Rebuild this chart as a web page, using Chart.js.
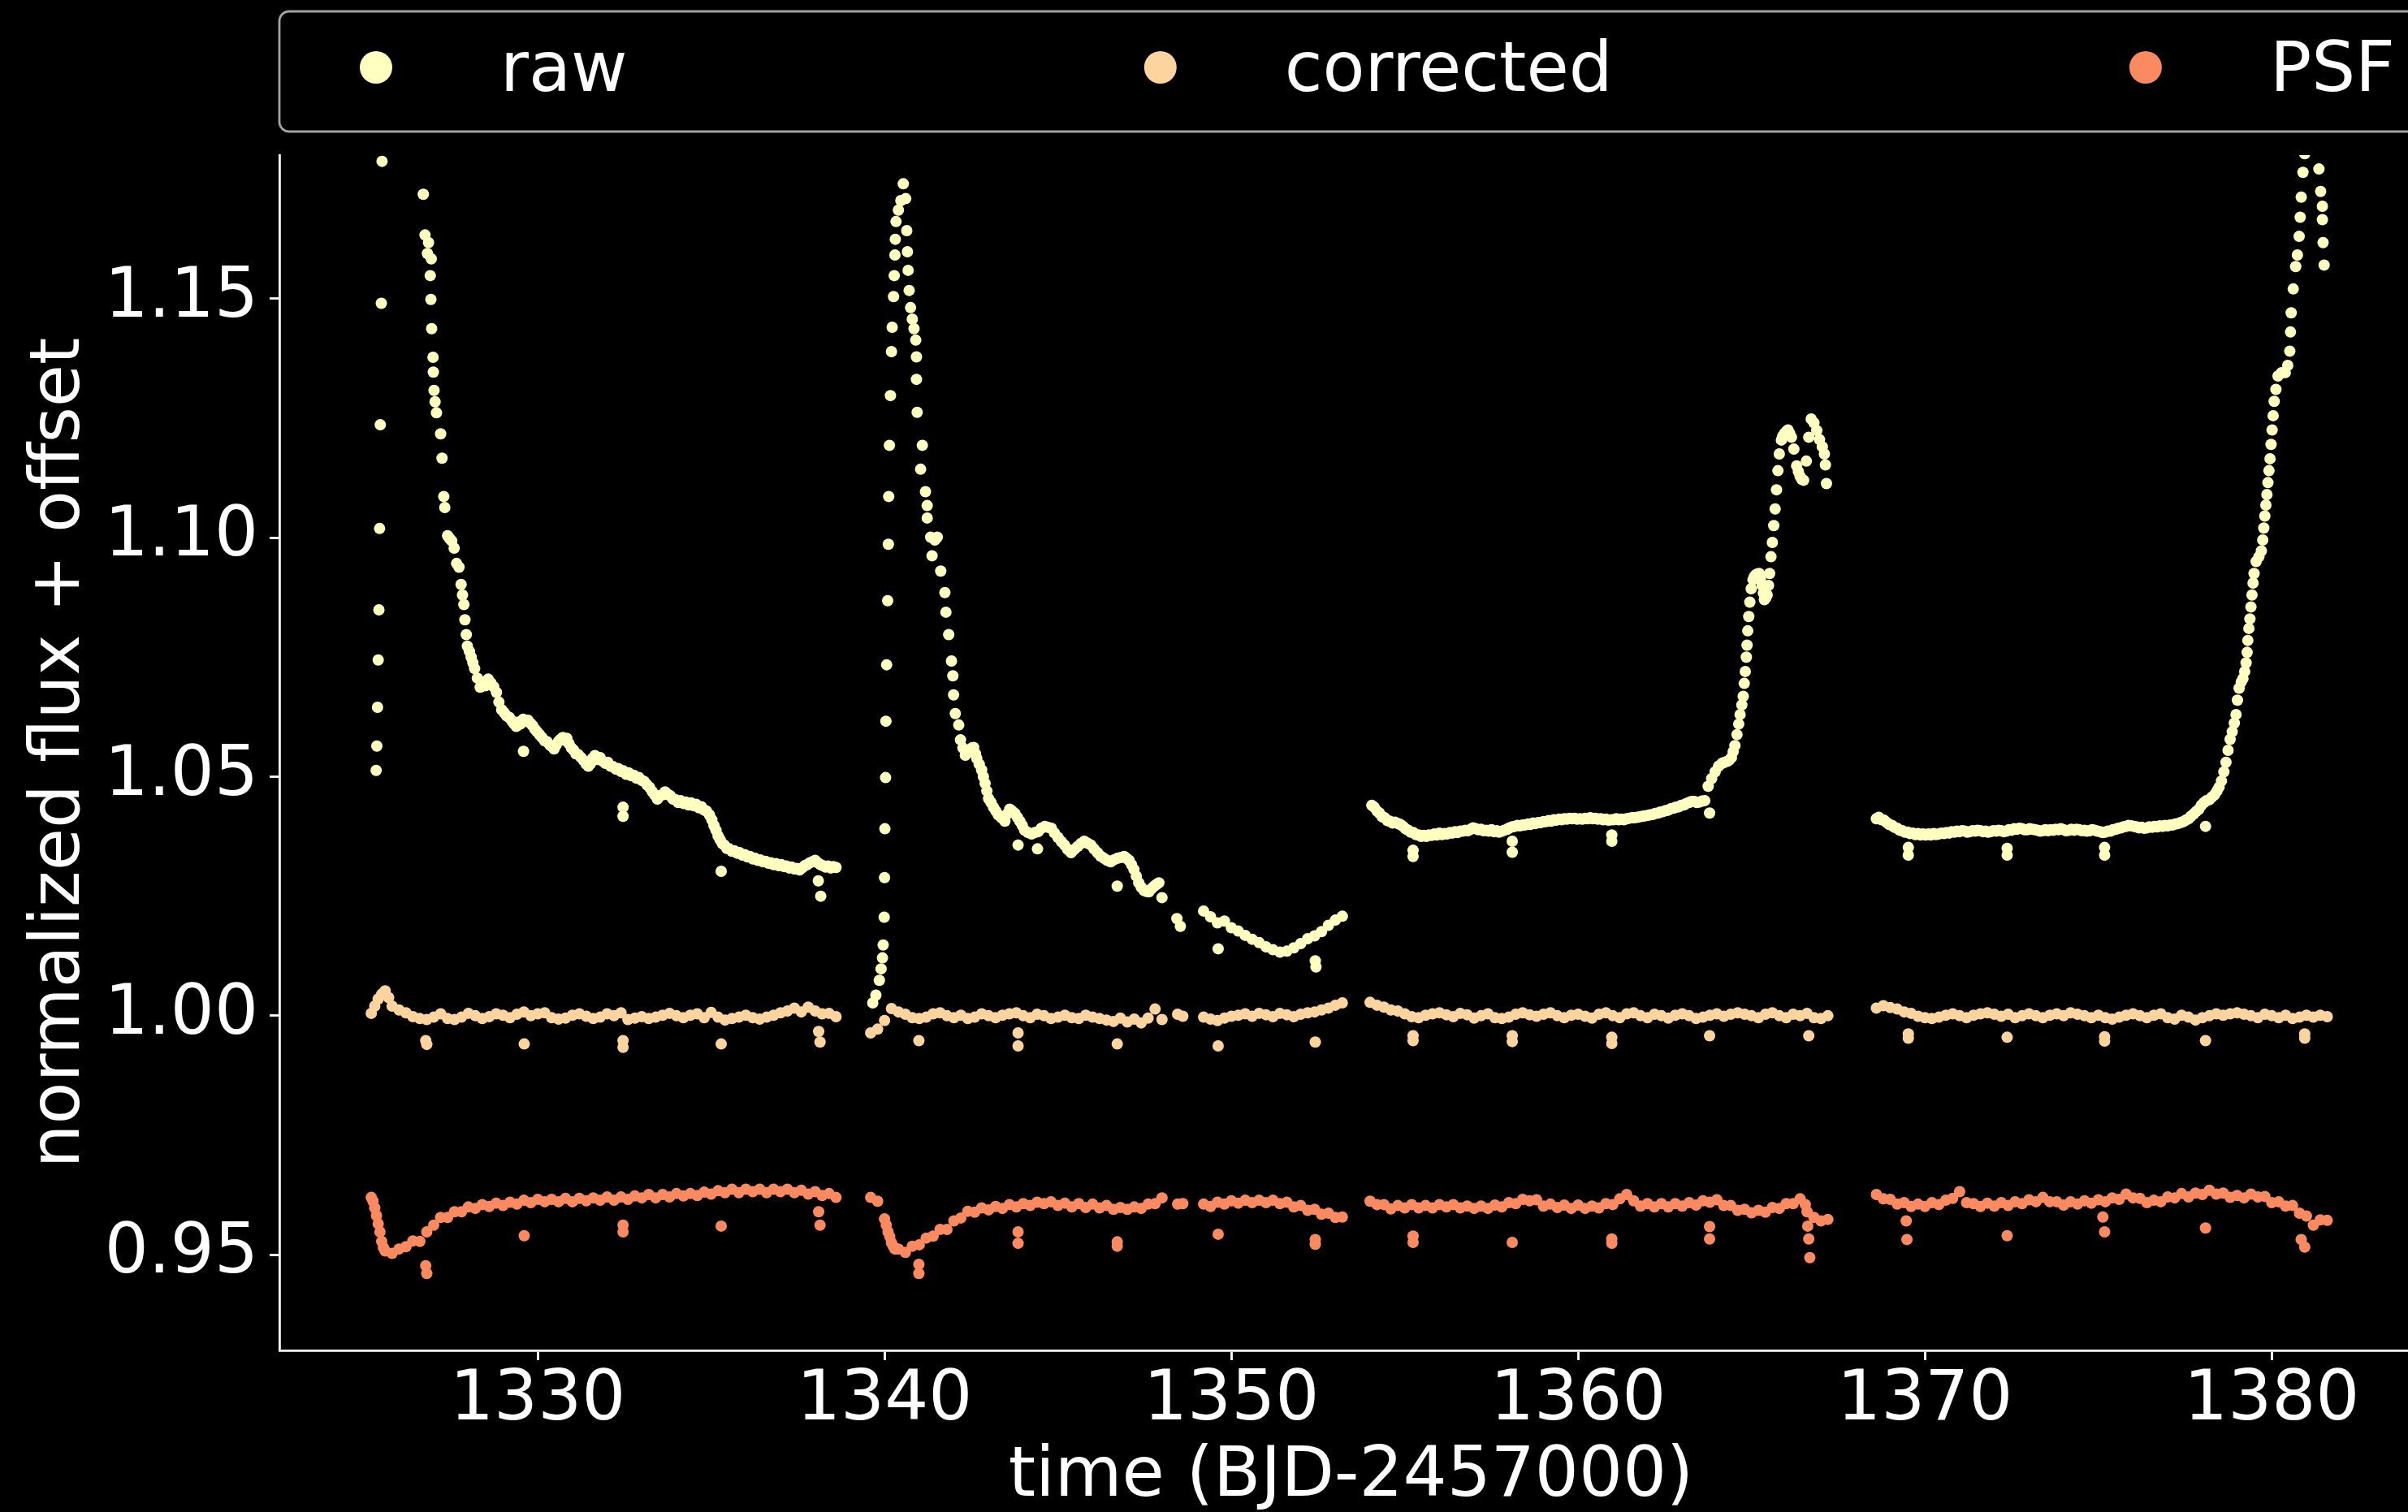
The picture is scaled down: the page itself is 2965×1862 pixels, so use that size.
<!DOCTYPE html>
<html>
<head>
<meta charset="utf-8">
<title>light curve</title>
<script src="https://cdn.jsdelivr.net/npm/chart.js@4.4.0/dist/chart.umd.min.js"></script>
<style>
    html, body { margin: 0; padding: 0; background: #000; overflow: hidden; }
    #wrap { position: absolute; left: 0; top: 0; width: 2990px; height: 1862px; }
</style>
</head>
<body>
<div id="wrap"><canvas id="lcChart" width="2990" height="1862"></canvas></div>
<script>
const seriesLabels = ['raw', 'corrected', 'PSF'];
const timeTicks = [1330, 1340, 1350, 1360, 1370, 1380];
const fluxTicks = [0.95, 1.00, 1.05, 1.10, 1.15];

// shared sample times (corrected + PSF), one array per orbit segment
const t1 = [1325.2, 1325.4, 1325.6, 1325.8, 1326.0, 1326.2, 1326.4, 1326.6, 1326.8, 1327.0,
    1327.2, 1327.4, 1327.6, 1327.8, 1328.0, 1328.2, 1328.4, 1328.6, 1328.8, 1329.0,
    1329.2, 1329.4, 1329.6, 1329.8, 1330.0, 1330.2, 1330.4, 1330.6, 1330.8, 1331.0,
    1331.2, 1331.4, 1331.6, 1331.8, 1332.0, 1332.2, 1332.4, 1332.6, 1332.8, 1333.0,
    1333.2, 1333.4, 1333.6, 1333.8, 1334.0, 1334.2, 1334.4, 1334.6, 1334.8, 1335.0,
    1335.2, 1335.4, 1335.6, 1335.8, 1336.0, 1336.2, 1336.4, 1336.6, 1336.8, 1337.0,
    1337.2, 1337.4, 1337.6, 1337.8, 1338.0, 1338.2, 1338.4, 1338.6];
const t2 = [1339.6, 1339.8, 1340.0, 1340.2, 1340.4, 1340.6, 1340.8, 1341.0, 1341.2, 1341.4,
    1341.6, 1341.8, 1342.0, 1342.2, 1342.4, 1342.6, 1342.8, 1343.0, 1343.2, 1343.4,
    1343.6, 1343.8, 1344.0, 1344.2, 1344.4, 1344.6, 1344.8, 1345.0, 1345.2, 1345.4,
    1345.6, 1345.8, 1346.0, 1346.2, 1346.4, 1346.6, 1346.8, 1347.0, 1347.2, 1347.4,
    1347.6, 1347.8, 1348.0, 1348.45, 1348.6];
const t3 = [1349.2, 1349.4, 1349.6, 1349.8, 1350.0, 1350.2, 1350.4, 1350.6, 1350.8, 1351.0,
    1351.2, 1351.4, 1351.6, 1351.8, 1352.0, 1352.2, 1352.4, 1352.6, 1352.8, 1353.0, 1353.2];
const t4 = [1354.0, 1354.2, 1354.4, 1354.6, 1354.8, 1355.0, 1355.2, 1355.4, 1355.6, 1355.8,
    1356.0, 1356.2, 1356.4, 1356.6, 1356.8, 1357.0, 1357.2, 1357.4, 1357.6, 1357.8,
    1358.0, 1358.2, 1358.4, 1358.6, 1358.8, 1359.0, 1359.2, 1359.4, 1359.6, 1359.8,
    1360.0, 1360.2, 1360.4, 1360.6, 1360.8, 1361.0, 1361.2, 1361.4, 1361.6, 1361.8,
    1362.0, 1362.2, 1362.4, 1362.6, 1362.8, 1363.0, 1363.2, 1363.4, 1363.6, 1363.8,
    1364.0, 1364.2, 1364.4, 1364.6, 1364.8, 1365.0, 1365.2, 1365.4, 1365.6, 1365.8,
    1366.0, 1366.2, 1366.4, 1366.6, 1366.8, 1367.0, 1367.2];
const t5 = [1368.6, 1368.8, 1369.0, 1369.2, 1369.4, 1369.6, 1369.8, 1370.0, 1370.2, 1370.4,
    1370.6, 1370.8, 1371.0, 1371.2, 1371.4, 1371.6, 1371.8, 1372.0, 1372.2, 1372.4,
    1372.6, 1372.8, 1373.0, 1373.2, 1373.4, 1373.6, 1373.8, 1374.0, 1374.2, 1374.4,
    1374.6, 1374.8, 1375.0, 1375.2, 1375.4, 1375.6, 1375.8, 1376.0, 1376.2, 1376.4,
    1376.6, 1376.8, 1377.0, 1377.2, 1377.4, 1377.6, 1377.8, 1378.0, 1378.2, 1378.4,
    1378.6, 1378.8, 1379.0, 1379.2, 1379.4, 1379.6, 1379.8, 1380.0, 1380.2, 1380.4,
    1380.6, 1380.8, 1381.0, 1381.2, 1381.4, 1381.6];

// corrected flux
const corr1 = [1.0005, 1.0035, 1.0052, 1.0020, 1.0012, 1.0006, 0.9998, 0.9994, 0.9992, 0.9997,
    1.0004, 0.9994, 0.9992, 0.9997, 1.0005, 1.0000, 0.9994, 0.9998, 1.0004, 1.0001,
    0.9996, 1.0003, 1.0008, 1.0000, 1.0004, 1.0006, 0.9996, 0.9993, 0.9995, 1.0001,
    1.0004, 0.9999, 0.9994, 0.9997, 1.0004, 1.0000, 1.0006, 0.9992, 0.9995, 0.9998,
    0.9994, 0.9997, 1.0001, 1.0005, 1.0000, 0.9996, 1.0001, 1.0004, 0.9996, 1.0007,
    0.9997, 0.9991, 0.9994, 0.9997, 1.0001, 0.9996, 0.9993, 0.9997, 1.0001, 1.0006,
    1.0010, 1.0016, 1.0008, 1.0018, 1.0010, 1.0004, 1.0005, 0.9998];
const corr2 = [0.9964, 0.9972, 0.9990, 1.0015, 1.0008, 1.0003, 0.9996, 0.9994, 0.9997, 1.0004,
    1.0006, 1.0000, 0.9996, 1.0001, 0.9994, 0.9997, 1.0004, 1.0000, 0.9996, 1.0001,
    1.0004, 1.0006, 1.0000, 0.9996, 1.0003, 1.0000, 0.9994, 0.9997, 1.0001, 0.9996,
    0.9994, 1.0001, 0.9997, 0.9994, 0.9991, 0.9988, 0.9995, 0.9987, 0.9993, 0.9985,
    0.9995, 1.0014, 0.9992, 1.0003, 0.9999];
const corr3 = [0.9997, 0.9993, 0.9990, 0.9995, 0.9999, 1.0001, 1.0004, 0.9999, 1.0005, 1.0002,
    0.9998, 1.0005, 1.0002, 0.9998, 1.0003, 1.0006, 1.0008, 1.0012, 1.0016, 1.0022, 1.0027];
const corr4 = [1.0028, 1.0022, 1.0018, 1.0012, 1.0010, 1.0004, 0.9998, 0.9996, 1.0001, 1.0004,
    1.0006, 1.0002, 0.9998, 1.0005, 1.0002, 0.9995, 1.0000, 1.0004, 0.9996, 0.9994,
    0.9997, 1.0003, 1.0006, 1.0002, 0.9999, 1.0003, 1.0006, 1.0000, 0.9996, 1.0001,
    1.0003, 0.9999, 0.9995, 1.0003, 1.0006, 1.0000, 0.9996, 1.0004, 1.0006, 1.0000,
    0.9996, 1.0003, 1.0000, 0.9995, 1.0001, 1.0004, 1.0000, 0.9994, 0.9997, 1.0001,
    1.0004, 0.9999, 1.0003, 1.0006, 1.0003, 1.0000, 0.9996, 1.0003, 1.0006, 1.0000,
    0.9996, 1.0003, 1.0000, 1.0005, 0.9996, 0.9994, 1.0000];
const corr5 = [1.0016, 1.0021, 1.0017, 1.0014, 1.0008, 1.0005, 0.9999, 0.9996, 0.9994, 0.9997,
    1.0001, 1.0004, 1.0000, 0.9996, 1.0001, 1.0004, 1.0006, 1.0003, 0.9999, 1.0003,
    0.9996, 1.0000, 1.0004, 1.0000, 0.9996, 1.0001, 1.0004, 1.0000, 1.0006, 1.0003,
    1.0000, 0.9996, 1.0001, 0.9996, 0.9993, 0.9997, 1.0001, 1.0004, 1.0000, 0.9996,
    1.0001, 1.0004, 0.9996, 0.9993, 1.0001, 0.9997, 0.9991, 0.9996, 1.0000, 1.0004,
    1.0001, 1.0004, 1.0006, 1.0003, 1.0000, 0.9996, 1.0003, 1.0000, 0.9996, 1.0001,
    0.9994, 0.9997, 1.0001, 0.9997, 1.0001, 0.9998];

// PSF flux
const psf1 = [0.9620, 0.9565, 0.9508, 0.9503, 0.9512, 0.9517, 0.9529, 0.9528, 0.9548, 0.9562,
    0.9578, 0.9578, 0.9590, 0.9590, 0.9600, 0.9597, 0.9605, 0.9601, 0.9608, 0.9603,
    0.9610, 0.9606, 0.9614, 0.9609, 0.9616, 0.9611, 0.9616, 0.9611, 0.9618, 0.9611,
    0.9618, 0.9613, 0.9619, 0.9614, 0.9621, 0.9614, 0.9621, 0.9616, 0.9623, 0.9619,
    0.9626, 0.9619, 0.9626, 0.9621, 0.9628, 0.9623, 0.9628, 0.9624, 0.9631, 0.9627,
    0.9634, 0.9630, 0.9637, 0.9630, 0.9637, 0.9632, 0.9637, 0.9630, 0.9637, 0.9632,
    0.9637, 0.9630, 0.9635, 0.9627, 0.9632, 0.9624, 0.9628, 0.9620];
const psf2 = [0.9620, 0.9612, 0.9575, 0.9525, 0.9512, 0.9505, 0.9518, 0.9521, 0.9535, 0.9539,
    0.9553, 0.9553, 0.9571, 0.9577, 0.9591, 0.9589, 0.9598, 0.9594, 0.9601, 0.9597,
    0.9605, 0.9600, 0.9607, 0.9603, 0.9610, 0.9607, 0.9611, 0.9603, 0.9608, 0.9600,
    0.9607, 0.9599, 0.9606, 0.9598, 0.9603, 0.9595, 0.9599, 0.9595, 0.9600, 0.9597,
    0.9606, 0.9607, 0.9619, 0.9606, 0.9607];
const psf3 = [0.9606, 0.9601, 0.9610, 0.9606, 0.9613, 0.9608, 0.9614, 0.9609, 0.9614, 0.9609,
    0.9614, 0.9607, 0.9610, 0.9600, 0.9603, 0.9593, 0.9595, 0.9585, 0.9587, 0.9578, 0.9579];
const psf4 = [0.9612, 0.9605, 0.9605, 0.9596, 0.9603, 0.9598, 0.9605, 0.9598, 0.9603, 0.9598,
    0.9605, 0.9600, 0.9605, 0.9598, 0.9602, 0.9597, 0.9602, 0.9597, 0.9604, 0.9600,
    0.9609, 0.9607, 0.9616, 0.9613, 0.9615, 0.9602, 0.9606, 0.9599, 0.9604, 0.9597,
    0.9604, 0.9597, 0.9602, 0.9598, 0.9607, 0.9605, 0.9617, 0.9626, 0.9613, 0.9602,
    0.9607, 0.9600, 0.9607, 0.9600, 0.9607, 0.9602, 0.9609, 0.9604, 0.9613, 0.9610,
    0.9615, 0.9603, 0.9603, 0.9593, 0.9595, 0.9588, 0.9593, 0.9589, 0.9599, 0.9597,
    0.9607, 0.9607, 0.9617, 0.9590, 0.9578, 0.9571, 0.9574];
const psf5 = [0.9626, 0.9617, 0.9616, 0.9606, 0.9609, 0.9601, 0.9606, 0.9601, 0.9609, 0.9605,
    0.9614, 0.9618, 0.9632, 0.9609, 0.9607, 0.9601, 0.9608, 0.9602, 0.9609, 0.9603,
    0.9611, 0.9607, 0.9615, 0.9611, 0.9620, 0.9611, 0.9611, 0.9604, 0.9611, 0.9606,
    0.9613, 0.9608, 0.9615, 0.9611, 0.9619, 0.9616, 0.9627, 0.9619, 0.9618, 0.9609,
    0.9614, 0.9611, 0.9621, 0.9619, 0.9628, 0.9621, 0.9629, 0.9626, 0.9635, 0.9627,
    0.9629, 0.9620, 0.9624, 0.9619, 0.9627, 0.9621, 0.9622, 0.9609, 0.9611, 0.9602,
    0.9603, 0.9587, 0.9581, 0.9562, 0.9573, 0.9572];

// raw flux: [time, flux], denser where the curve is steep
const raw1 = [[1325.34, 1.0513], [1325.36, 1.0564], [1325.38, 1.0645], [1325.40, 1.0744], [1325.42, 1.0849],
    [1325.44, 1.1019], [1325.46, 1.1236], [1325.49, 1.1490], [1325.51, 1.1787],
    [1326.70, 1.1718], [1326.75, 1.1633], [1326.82, 1.1594], [1326.85, 1.1617], [1326.90, 1.1548],
    [1326.93, 1.1583], [1326.92, 1.1498], [1326.94, 1.1437], [1326.98, 1.1377], [1326.99, 1.1346],
    [1327.01, 1.1308], [1327.04, 1.1284], [1327.08, 1.1261], [1327.20, 1.1217], [1327.24, 1.1166],
    [1327.29, 1.1086], [1327.32, 1.1063], [1327.40, 1.1004], [1327.46, 1.0998], [1327.52, 1.0993],
    [1327.59, 1.0978], [1327.66, 1.0946], [1327.73, 1.0938], [1327.79, 1.0902], [1327.83, 1.0880],
    [1327.87, 1.0860], [1327.90, 1.0828], [1327.94, 1.0797], [1327.97, 1.0773], [1328.03, 1.0762],
    [1328.08, 1.0750], [1328.13, 1.0738], [1328.18, 1.0726], [1328.26, 1.0706], [1328.34, 1.0687],
    [1328.42, 1.0698], [1328.49, 1.0690], [1328.57, 1.0704], [1328.65, 1.0696], [1328.73, 1.0688],
    [1328.81, 1.0676], [1328.88, 1.0656], [1328.96, 1.0640], [1329.03, 1.0634], [1329.10, 1.0627],
    [1329.18, 1.0624], [1329.25, 1.0617], [1329.31, 1.0611], [1329.38, 1.0605], [1329.44, 1.0614],
    [1329.50, 1.0610], [1329.58, 1.0620], [1329.65, 1.0616], [1329.72, 1.0618], [1329.80, 1.0611],
    [1329.86, 1.0606], [1329.92, 1.0599], [1329.98, 1.0594], [1330.05, 1.0588], [1330.12, 1.0582],
    [1330.20, 1.0575], [1330.27, 1.0573], [1330.35, 1.0566], [1330.41, 1.0563], [1330.47, 1.0558],
    [1330.53, 1.0566], [1330.60, 1.0574], [1330.66, 1.0578], [1330.72, 1.0582], [1330.78, 1.0576],
    [1330.84, 1.0580], [1330.90, 1.0569], [1330.97, 1.0560], [1331.03, 1.0556], [1331.10, 1.0548],
    [1331.17, 1.0546], [1331.25, 1.0540], [1331.32, 1.0534], [1331.40, 1.0526], [1331.46, 1.0522],
    [1331.52, 1.0527], [1331.58, 1.0538], [1331.65, 1.0544], [1331.72, 1.0536], [1331.80, 1.0540],
    [1331.88, 1.0532], [1331.95, 1.0528], [1332.02, 1.0530], [1332.10, 1.0522], [1332.17, 1.0521],
    [1332.25, 1.0516], [1332.32, 1.0517], [1332.40, 1.0511], [1332.47, 1.0512], [1332.55, 1.0505],
    [1332.62, 1.0508], [1332.70, 1.0502], [1332.77, 1.0503], [1332.85, 1.0497], [1332.92, 1.0498],
    [1333.00, 1.0492], [1333.07, 1.0490], [1333.15, 1.0483], [1333.22, 1.0478], [1333.30, 1.0469],
    [1333.37, 1.0462], [1333.45, 1.0453], [1333.52, 1.0460], [1333.60, 1.0462], [1333.67, 1.0468],
    [1333.75, 1.0463], [1333.82, 1.0460], [1333.90, 1.0453], [1333.97, 1.0452], [1334.05, 1.0446],
    [1334.12, 1.0450], [1334.20, 1.0444], [1334.27, 1.0447], [1334.35, 1.0441], [1334.42, 1.0445],
    [1334.50, 1.0439], [1334.57, 1.0442], [1334.65, 1.0435], [1334.72, 1.0437], [1334.80, 1.0430],
    [1334.87, 1.0428], [1334.95, 1.0420], [1335.02, 1.0410], [1335.08, 1.0398], [1335.14, 1.0388],
    [1335.20, 1.0376], [1335.26, 1.0368], [1335.32, 1.0360], [1335.38, 1.0357], [1335.45, 1.0350],
    [1335.52, 1.0349], [1335.60, 1.0344], [1335.67, 1.0345], [1335.75, 1.0340], [1335.82, 1.0341],
    [1335.90, 1.0336], [1335.97, 1.0337], [1336.05, 1.0332], [1336.12, 1.0333], [1336.20, 1.0328],
    [1336.27, 1.0329], [1336.35, 1.0325], [1336.42, 1.0326], [1336.50, 1.0322], [1336.57, 1.0323],
    [1336.65, 1.0319], [1336.72, 1.0320], [1336.80, 1.0316], [1336.87, 1.0318], [1336.95, 1.0314],
    [1337.02, 1.0316], [1337.10, 1.0312], [1337.17, 1.0313], [1337.25, 1.0309], [1337.32, 1.0311],
    [1337.40, 1.0307], [1337.47, 1.0308], [1337.55, 1.0305], [1337.62, 1.0309], [1337.70, 1.0314],
    [1337.77, 1.0316], [1337.85, 1.0320], [1337.92, 1.0322], [1338.00, 1.0325], [1338.07, 1.0320],
    [1338.15, 1.0316], [1338.22, 1.0314], [1338.30, 1.0311], [1338.37, 1.0313], [1338.45, 1.0309],
    [1338.52, 1.0312], [1338.60, 1.0310]];
const raw2 = [[1339.66, 1.0027], [1339.75, 1.0043], [1339.85, 1.0074], [1339.90, 1.0098], [1339.94, 1.0121],
    [1339.96, 1.0148], [1339.99, 1.0206], [1340.00, 1.0289], [1340.01, 1.0391], [1340.03, 1.0498],
    [1340.04, 1.0616], [1340.06, 1.0734], [1340.09, 1.0868], [1340.11, 1.0986], [1340.12, 1.1086],
    [1340.14, 1.1193], [1340.17, 1.1297], [1340.20, 1.1389], [1340.22, 1.1440], [1340.26, 1.1504],
    [1340.28, 1.1548], [1340.30, 1.1591], [1340.31, 1.1624], [1340.33, 1.1661], [1340.40, 1.1685],
    [1340.47, 1.1705], [1340.54, 1.1740], [1340.61, 1.1709], [1340.64, 1.1642], [1340.66, 1.1598],
    [1340.68, 1.1559], [1340.71, 1.1517], [1340.75, 1.1481], [1340.80, 1.1457], [1340.85, 1.1437],
    [1340.90, 1.1413], [1340.92, 1.1378], [1340.92, 1.1331], [1340.94, 1.1262], [1341.04, 1.1143],
    [1341.09, 1.1193], [1341.18, 1.1096], [1341.23, 1.1067], [1341.23, 1.1041], [1341.33, 1.1001],
    [1341.37, 1.0962], [1341.45, 1.0995], [1341.52, 1.1001], [1341.62, 1.0930], [1341.74, 1.0885],
    [1341.77, 1.0844], [1341.85, 1.0797], [1341.93, 1.0742], [1341.97, 1.0711], [1341.99, 1.0671],
    [1342.04, 1.0632], [1342.14, 1.0608], [1342.19, 1.0577], [1342.26, 1.0560], [1342.33, 1.0545],
    [1342.40, 1.0550], [1342.47, 1.0553], [1342.52, 1.0560], [1342.57, 1.0561], [1342.62, 1.0548],
    [1342.66, 1.0538], [1342.73, 1.0526], [1342.80, 1.0514], [1342.85, 1.0500], [1342.90, 1.0486],
    [1342.95, 1.0470], [1343.00, 1.0454], [1343.07, 1.0446], [1343.14, 1.0436], [1343.21, 1.0428],
    [1343.28, 1.0420], [1343.37, 1.0414], [1343.47, 1.0407], [1343.54, 1.0422], [1343.61, 1.0432],
    [1343.68, 1.0428], [1343.76, 1.0423], [1343.83, 1.0415], [1343.90, 1.0407], [1343.97, 1.0398],
    [1344.04, 1.0388], [1344.14, 1.0383], [1344.24, 1.0380], [1344.33, 1.0383], [1344.43, 1.0385],
    [1344.52, 1.0392], [1344.62, 1.0396], [1344.71, 1.0394], [1344.81, 1.0392], [1344.90, 1.0382],
    [1345.00, 1.0373], [1345.10, 1.0364], [1345.19, 1.0357], [1345.28, 1.0348], [1345.38, 1.0341],
    [1345.47, 1.0348], [1345.57, 1.0354], [1345.66, 1.0360], [1345.76, 1.0365], [1345.85, 1.0361],
    [1345.95, 1.0357], [1346.04, 1.0349], [1346.14, 1.0341], [1346.23, 1.0334], [1346.33, 1.0329],
    [1346.42, 1.0325], [1346.52, 1.0322], [1346.61, 1.0326], [1346.71, 1.0329], [1346.81, 1.0331],
    [1346.91, 1.0333], [1346.98, 1.0329], [1347.05, 1.0325], [1347.12, 1.0316], [1347.19, 1.0306],
    [1347.26, 1.0292], [1347.33, 1.0278], [1347.40, 1.0269], [1347.48, 1.0262], [1347.55, 1.0260],
    [1347.62, 1.0259], [1347.69, 1.0265], [1347.76, 1.0270], [1347.83, 1.0274], [1347.91, 1.0278],
    [1348.00, 1.0247], [1348.43, 1.0203], [1348.53, 1.0187]];
const raw3 = [1.0219, 1.0207, 1.0194, 1.0198, 1.0184, 1.0177, 1.0168, 1.0160, 1.0153, 1.0144,
    1.0138, 1.0133, 1.0135, 1.0142, 1.0151, 1.0161, 1.0167, 1.0176, 1.0189, 1.0200, 1.0208];
const raw4 = [[1354.05, 1.0440], [1354.12, 1.0436], [1354.20, 1.0428], [1354.27, 1.0424], [1354.35, 1.0416],
    [1354.42, 1.0414], [1354.50, 1.0408], [1354.57, 1.0407], [1354.65, 1.0403], [1354.72, 1.0405],
    [1354.80, 1.0402], [1354.87, 1.0400], [1354.95, 1.0396], [1355.02, 1.0391], [1355.10, 1.0388],
    [1355.17, 1.0384], [1355.25, 1.0383], [1355.32, 1.0379], [1355.40, 1.0378], [1355.47, 1.0375],
    [1355.55, 1.0377], [1355.62, 1.0375], [1355.70, 1.0378], [1355.77, 1.0377], [1355.85, 1.0380],
    [1355.92, 1.0378], [1356.00, 1.0382], [1356.07, 1.0379], [1356.15, 1.0381], [1356.22, 1.0380],
    [1356.30, 1.0383], [1356.37, 1.0382], [1356.45, 1.0385], [1356.52, 1.0383], [1356.60, 1.0386],
    [1356.67, 1.0386], [1356.75, 1.0388], [1356.82, 1.0387], [1356.90, 1.0390], [1356.97, 1.0393],
    [1357.05, 1.0391], [1357.12, 1.0389], [1357.20, 1.0390], [1357.27, 1.0387], [1357.35, 1.0388],
    [1357.42, 1.0386], [1357.50, 1.0389], [1357.57, 1.0385], [1357.65, 1.0387], [1357.72, 1.0384],
    [1357.80, 1.0386], [1357.87, 1.0388], [1357.95, 1.0390], [1358.02, 1.0393], [1358.10, 1.0395],
    [1358.17, 1.0396], [1358.25, 1.0398], [1358.32, 1.0397], [1358.40, 1.0399], [1358.47, 1.0399],
    [1358.55, 1.0401], [1358.62, 1.0400], [1358.70, 1.0403], [1358.77, 1.0402], [1358.85, 1.0404],
    [1358.92, 1.0404], [1359.00, 1.0406], [1359.07, 1.0406], [1359.15, 1.0408], [1359.22, 1.0407],
    [1359.30, 1.0410], [1359.37, 1.0409], [1359.45, 1.0411], [1359.52, 1.0410], [1359.60, 1.0412],
    [1359.67, 1.0411], [1359.75, 1.0413], [1359.82, 1.0412], [1359.90, 1.0413], [1359.97, 1.0411],
    [1360.05, 1.0412], [1360.12, 1.0411], [1360.20, 1.0413], [1360.27, 1.0412], [1360.35, 1.0414],
    [1360.42, 1.0412], [1360.50, 1.0413], [1360.57, 1.0411], [1360.65, 1.0412], [1360.72, 1.0410],
    [1360.80, 1.0411], [1360.87, 1.0409], [1360.95, 1.0410], [1361.02, 1.0410], [1361.10, 1.0412],
    [1361.17, 1.0410], [1361.25, 1.0411], [1361.32, 1.0410], [1361.40, 1.0412], [1361.47, 1.0413],
    [1361.55, 1.0414], [1361.62, 1.0414], [1361.70, 1.0415], [1361.77, 1.0416], [1361.85, 1.0417],
    [1361.92, 1.0418], [1362.00, 1.0419], [1362.07, 1.0420], [1362.15, 1.0421], [1362.22, 1.0423],
    [1362.30, 1.0424], [1362.37, 1.0426], [1362.45, 1.0427], [1362.52, 1.0429], [1362.60, 1.0430],
    [1362.67, 1.0433], [1362.75, 1.0434], [1362.82, 1.0436], [1362.90, 1.0437], [1362.97, 1.0440],
    [1363.05, 1.0441], [1363.12, 1.0444], [1363.20, 1.0446], [1363.27, 1.0448], [1363.35, 1.0448],
    [1363.42, 1.0446], [1363.50, 1.0447], [1363.57, 1.0449], [1363.65, 1.0450],
    [1363.75, 1.0480], [1363.85, 1.0496], [1363.95, 1.0510], [1364.05, 1.0522], [1364.15, 1.0528],
    [1364.22, 1.0530], [1364.30, 1.0532], [1364.36, 1.0535], [1364.42, 1.0540], [1364.47, 1.0552],
    [1364.52, 1.0565], [1364.58, 1.0588], [1364.63, 1.0610], [1364.67, 1.0630], [1364.72, 1.0650],
    [1364.76, 1.0668], [1364.79, 1.0695], [1364.82, 1.0720], [1364.85, 1.0750], [1364.87, 1.0775],
    [1364.89, 1.0805], [1364.92, 1.0835], [1364.95, 1.0865], [1364.99, 1.0893], [1365.04, 1.0912],
    [1365.08, 1.0918], [1365.12, 1.0922], [1365.17, 1.0924], [1365.22, 1.0925], [1365.26, 1.0912],
    [1365.30, 1.0900], [1365.34, 1.0884], [1365.37, 1.0870], [1365.41, 1.0874], [1365.45, 1.0880],
    [1365.49, 1.0900], [1365.52, 1.0925], [1365.56, 1.0960], [1365.60, 1.0990], [1365.64, 1.1025],
    [1365.68, 1.1060], [1365.72, 1.1100], [1365.76, 1.1140], [1365.80, 1.1175], [1365.86, 1.1204],
    [1365.90, 1.1212], [1365.95, 1.1218], [1366.00, 1.1222], [1366.05, 1.1225], [1366.10, 1.1218],
    [1366.15, 1.1210], [1366.22, 1.1185], [1366.30, 1.1150], [1366.35, 1.1138], [1366.40, 1.1128],
    [1366.45, 1.1122], [1366.50, 1.1120], [1366.58, 1.1160], [1366.65, 1.1210], [1366.72, 1.1248],
    [1366.80, 1.1240], [1366.88, 1.1224], [1366.96, 1.1205], [1367.04, 1.1190], [1367.10, 1.1175],
    [1367.13, 1.1152], [1367.16, 1.1113]];
const raw5 = [[1368.60, 1.0412], [1368.67, 1.0415], [1368.75, 1.0410], [1368.82, 1.0409], [1368.90, 1.0404],
    [1368.97, 1.0400], [1369.05, 1.0398], [1369.12, 1.0394], [1369.20, 1.0392], [1369.27, 1.0388],
    [1369.35, 1.0387], [1369.42, 1.0384], [1369.50, 1.0384], [1369.57, 1.0381], [1369.65, 1.0382],
    [1369.72, 1.0379], [1369.80, 1.0381], [1369.87, 1.0378], [1369.95, 1.0380], [1370.02, 1.0378],
    [1370.10, 1.0380], [1370.17, 1.0378], [1370.25, 1.0381], [1370.32, 1.0379], [1370.40, 1.0380],
    [1370.47, 1.0382], [1370.55, 1.0381], [1370.62, 1.0383], [1370.70, 1.0382], [1370.77, 1.0385],
    [1370.85, 1.0384], [1370.92, 1.0386], [1371.00, 1.0385], [1371.07, 1.0387], [1371.15, 1.0386],
    [1371.22, 1.0384], [1371.30, 1.0385], [1371.37, 1.0387], [1371.45, 1.0386], [1371.52, 1.0388],
    [1371.60, 1.0387], [1371.67, 1.0385], [1371.75, 1.0386], [1371.82, 1.0384], [1371.90, 1.0385],
    [1371.97, 1.0387], [1372.05, 1.0386], [1372.12, 1.0388], [1372.20, 1.0387], [1372.27, 1.0385],
    [1372.35, 1.0386], [1372.42, 1.0389], [1372.50, 1.0388], [1372.57, 1.0391], [1372.65, 1.0390],
    [1372.72, 1.0392], [1372.80, 1.0391], [1372.87, 1.0389], [1372.95, 1.0389], [1373.02, 1.0391],
    [1373.10, 1.0390], [1373.17, 1.0389], [1373.25, 1.0388], [1373.32, 1.0386], [1373.40, 1.0387],
    [1373.47, 1.0389], [1373.55, 1.0387], [1373.62, 1.0389], [1373.70, 1.0388], [1373.77, 1.0390],
    [1373.85, 1.0389], [1373.92, 1.0391], [1374.00, 1.0389], [1374.07, 1.0387], [1374.15, 1.0388],
    [1374.22, 1.0390], [1374.30, 1.0388], [1374.37, 1.0390], [1374.45, 1.0389], [1374.52, 1.0387],
    [1374.60, 1.0388], [1374.67, 1.0386], [1374.75, 1.0387], [1374.82, 1.0389], [1374.90, 1.0388],
    [1374.97, 1.0386], [1375.05, 1.0385], [1375.12, 1.0383], [1375.20, 1.0384], [1375.27, 1.0386],
    [1375.35, 1.0386], [1375.42, 1.0389], [1375.50, 1.0390], [1375.57, 1.0392], [1375.65, 1.0393],
    [1375.72, 1.0395], [1375.80, 1.0396], [1375.87, 1.0398], [1375.95, 1.0397], [1376.02, 1.0396],
    [1376.10, 1.0395], [1376.17, 1.0393], [1376.25, 1.0394], [1376.32, 1.0392], [1376.40, 1.0393],
    [1376.47, 1.0395], [1376.55, 1.0394], [1376.62, 1.0396], [1376.70, 1.0395], [1376.77, 1.0397],
    [1376.85, 1.0396], [1376.92, 1.0398], [1377.00, 1.0397], [1377.07, 1.0399], [1377.15, 1.0399],
    [1377.22, 1.0401], [1377.30, 1.0402], [1377.37, 1.0404], [1377.45, 1.0406], [1377.52, 1.0409],
    [1377.60, 1.0412], [1377.67, 1.0417], [1377.75, 1.0422], [1377.82, 1.0427], [1377.90, 1.0432],
    [1377.97, 1.0440], [1378.05, 1.0446], [1378.12, 1.0450], [1378.20, 1.0452], [1378.27, 1.0457],
    [1378.35, 1.0462], [1378.42, 1.0470], [1378.48, 1.0478], [1378.55, 1.0491], [1378.62, 1.0510],
    [1378.68, 1.0530], [1378.74, 1.0555], [1378.80, 1.0578], [1378.86, 1.0594], [1378.92, 1.0612],
    [1378.97, 1.0630], [1379.01, 1.0660], [1379.06, 1.0685], [1379.12, 1.0698], [1379.17, 1.0705],
    [1379.22, 1.0720], [1379.26, 1.0738], [1379.29, 1.0760], [1379.31, 1.0785], [1379.34, 1.0810],
    [1379.37, 1.0830], [1379.40, 1.0855], [1379.43, 1.0880], [1379.46, 1.0905], [1379.49, 1.0925],
    [1379.55, 1.0950], [1379.63, 1.0960], [1379.70, 1.0972], [1379.74, 1.0995], [1379.77, 1.1020],
    [1379.80, 1.1045], [1379.83, 1.1068], [1379.86, 1.1090], [1379.89, 1.1115], [1379.92, 1.1140],
    [1379.95, 1.1165], [1379.98, 1.1195], [1380.01, 1.1225], [1380.04, 1.1255], [1380.07, 1.1285],
    [1380.12, 1.1310], [1380.18, 1.1338], [1380.28, 1.1345], [1380.39, 1.1345], [1380.46, 1.1360],
    [1380.52, 1.1390], [1380.54, 1.1430], [1380.56, 1.1470], [1380.62, 1.1520], [1380.69, 1.1567],
    [1380.74, 1.1591], [1380.79, 1.1630], [1380.82, 1.1670], [1380.85, 1.1712], [1380.90, 1.1764],
    [1380.95, 1.1803], [1381.36, 1.1771], [1381.41, 1.1724], [1381.46, 1.1693], [1381.46, 1.1665],
    [1381.48, 1.1617], [1381.51, 1.1570]];

// transit points and other stray points under each curve
const rawExtra = [[1329.59, 1.0553], [1332.46, 1.0436], [1332.46, 1.0417], [1335.29, 1.0302], [1338.09, 1.0282],
    [1338.16, 1.0250], [1343.85, 1.0357], [1344.41, 1.0349], [1346.71, 1.0271], [1349.62, 1.0140],
    [1352.42, 1.0115], [1352.44, 1.0102], [1355.24, 1.0346], [1355.24, 1.0333], [1358.10, 1.0365],
    [1358.10, 1.0342], [1360.97, 1.0378], [1360.97, 1.0365], [1363.79, 1.0424], [1369.52, 1.0352],
    [1369.52, 1.0336], [1372.37, 1.0350], [1372.37, 1.0336], [1375.18, 1.0352], [1375.18, 1.0336],
    [1378.09, 1.0396]];
const corrExtra = [[1325.30, 1.0020], [1325.50, 1.0045], [1325.70, 1.0038],
    [1326.77, 0.9948], [1326.80, 0.9940], [1329.61, 0.9941], [1332.46, 0.9948], [1332.46, 0.9934],
    [1335.29, 0.9941], [1338.10, 0.9967], [1338.14, 0.9945], [1340.99, 0.9948], [1343.85, 0.9964],
    [1343.85, 0.9937], [1346.71, 0.9941], [1349.62, 0.9937], [1352.42, 0.9945], [1355.24, 0.9958],
    [1355.24, 0.9948], [1358.10, 0.9958], [1358.10, 0.9946], [1360.97, 0.9955], [1360.97, 0.9942],
    [1363.79, 0.9958], [1366.65, 0.9958], [1369.52, 0.9962], [1369.52, 0.9953], [1372.37, 0.9955],
    [1375.18, 0.9956], [1375.18, 0.9947], [1378.09, 0.9948], [1380.95, 0.9962], [1380.95, 0.9953]];
const psfExtra = [[1325.25, 0.9612], [1325.30, 0.9598], [1325.35, 0.9582], [1325.45, 0.9548], [1325.50, 0.9528],
    [1325.55, 0.9515], [1340.05, 0.9562], [1340.10, 0.9548], [1340.15, 0.9538], [1340.25, 0.9518],
    [1340.30, 0.9512], [1366.55, 0.9605], [1366.62, 0.9560],
    [1326.77, 0.9477], [1326.80, 0.9461], [1329.61, 0.9540], [1332.46, 0.9562], [1332.46, 0.9548],
    [1335.29, 0.9560], [1338.10, 0.9590], [1338.14, 0.9562], [1340.99, 0.9480], [1340.99, 0.9461],
    [1343.85, 0.9548], [1343.85, 0.9524], [1346.71, 0.9527], [1346.71, 0.9518], [1349.62, 0.9543],
    [1352.42, 0.9532], [1352.42, 0.9522], [1355.24, 0.9539], [1355.24, 0.9526], [1358.10, 0.9526],
    [1360.97, 0.9533], [1360.97, 0.9524], [1363.79, 0.9559], [1363.79, 0.9533], [1366.65, 0.9533],
    [1366.68, 0.9494], [1369.46, 0.9571], [1369.48, 0.9532], [1372.37, 0.9540], [1375.13, 0.9579],
    [1375.18, 0.9548], [1378.09, 0.9556], [1380.85, 0.9532], [1380.95, 0.9516]];


function fromGrid(times, values) {
    return times.map((t, i) => ({ x: t, y: values[i] }));
}

function fromPairs(pairs) {
    return pairs.map(p => ({ x: p[0], y: p[1] }));
}

const rawPoints = [].concat(fromPairs(raw1), fromPairs(raw2), fromGrid(t3, raw3),
    fromPairs(raw4), fromPairs(raw5), fromPairs(rawExtra));
const corrPoints = [].concat(fromGrid(t1, corr1), fromGrid(t2, corr2), fromGrid(t3, corr3),
    fromGrid(t4, corr4), fromGrid(t5, corr5), fromPairs(corrExtra));
const psfPoints = [].concat(fromGrid(t1, psf1), fromGrid(t2, psf2), fromGrid(t3, psf3),
    fromGrid(t4, psf4), fromGrid(t5, psf5), fromPairs(psfExtra));


// matplotlib-like "expand" legend in a rounded frame above the axes
const frameLegend = {
    id: 'frameLegend',
    afterDraw(chart) {
        const ctx = chart.ctx;
        const area = chart.chartArea;
        const em = 85;
        const pad = 0.4 * em, handle = 2 * em, textPad = 0.8 * em;
        ctx.save();
        ctx.font = em + 'px "DejaVu Sans"';
        const items = chart.data.datasets.map(ds => ({
            label: ds.label,
            color: ds.backgroundColor,
            width: handle + textPad + ctx.measureText(ds.label).width
        }));
        const used = items.reduce((sum, it) => sum + it.width, 0);
        const gap = (area.right - area.left - 2 * pad - used) / (items.length - 1);

        ctx.lineWidth = 2.8;
        ctx.strokeStyle = '#a3a3a3';
        ctx.beginPath();
        ctx.roundRect(area.left, 14, area.right - area.left, 148, 12);
        ctx.stroke();

        let x = area.left + pad;
        items.forEach(it => {
            ctx.fillStyle = it.color;
            ctx.beginPath();
            ctx.arc(x + handle / 2, 83, 20, 0, Math.PI * 2);
            ctx.fill();
            ctx.fillStyle = '#ffffff';
            ctx.textAlign = 'left';
            ctx.textBaseline = 'alphabetic';
            ctx.fillText(it.label, x + handle + textPad, 112);
            x += it.width + gap;
        });
        ctx.restore();
    }
};

Chart.defaults.font.family = '"DejaVu Sans"';
Chart.defaults.color = '#ffffff';

const dotStyle = { pointRadius: 7, pointHoverRadius: 7, pointBorderWidth: 0, borderWidth: 0, showLine: false };

new Chart(document.getElementById('lcChart'), {
    type: 'scatter',
    data: {
        datasets: [
            { label: seriesLabels[0], data: rawPoints, backgroundColor: '#ffffbf', order: 3, ...dotStyle },
            { label: seriesLabels[1], data: corrPoints, backgroundColor: '#fdd49e', order: 2, ...dotStyle },
            { label: seriesLabels[2], data: psfPoints, backgroundColor: '#fc8a60', order: 1, ...dotStyle }
        ]
    },
    options: {
        responsive: false,
        animation: false,
        devicePixelRatio: 1,
        events: [],
        layout: { padding: { top: 191, right: 1, bottom: 0, left: 0 } },
        plugins: {
            legend: { display: false },
            tooltip: { enabled: false }
        },
        scales: {
            x: {
                type: 'linear',
                min: 1322.55,
                max: 1384.35,
                afterFit: scale => { scale.height = 199; },
                afterBuildTicks: scale => { scale.ticks = timeTicks.map(v => ({ value: v })); },
                ticks: { padding: 0, maxRotation: 0, font: { size: 85 }, callback: v => String(v) },
                grid: { display: true, drawOnChartArea: false, drawTicks: true, tickLength: 12, tickWidth: 2.8, tickColor: '#ffffff' },
                border: { display: true, color: '#ffffff', width: 2.8 },
                title: { display: true, text: 'time (BJD-2457000)', font: { size: 85, lineHeight: 1 }, padding: 0 }
            },
            y: {
                type: 'linear',
                min: 0.93,
                max: 1.18,
                afterFit: scale => { scale.width = 344; },
                afterBuildTicks: scale => { scale.ticks = fluxTicks.map(v => ({ value: v })); },
                ticks: { padding: 14, font: { size: 85 }, callback: v => v.toFixed(2) },
                grid: { display: true, drawOnChartArea: false, drawTicks: true, tickLength: 12, tickWidth: 2.8, tickColor: '#ffffff' },
                border: { display: true, color: '#ffffff', width: 2.8 },
                title: { display: true, text: 'normalized flux + offset', font: { size: 85, lineHeight: 1 }, padding: { top: 32, bottom: 0 } }
            }
        }
    },
    plugins: [frameLegend]
});
</script>
</body>
</html>
